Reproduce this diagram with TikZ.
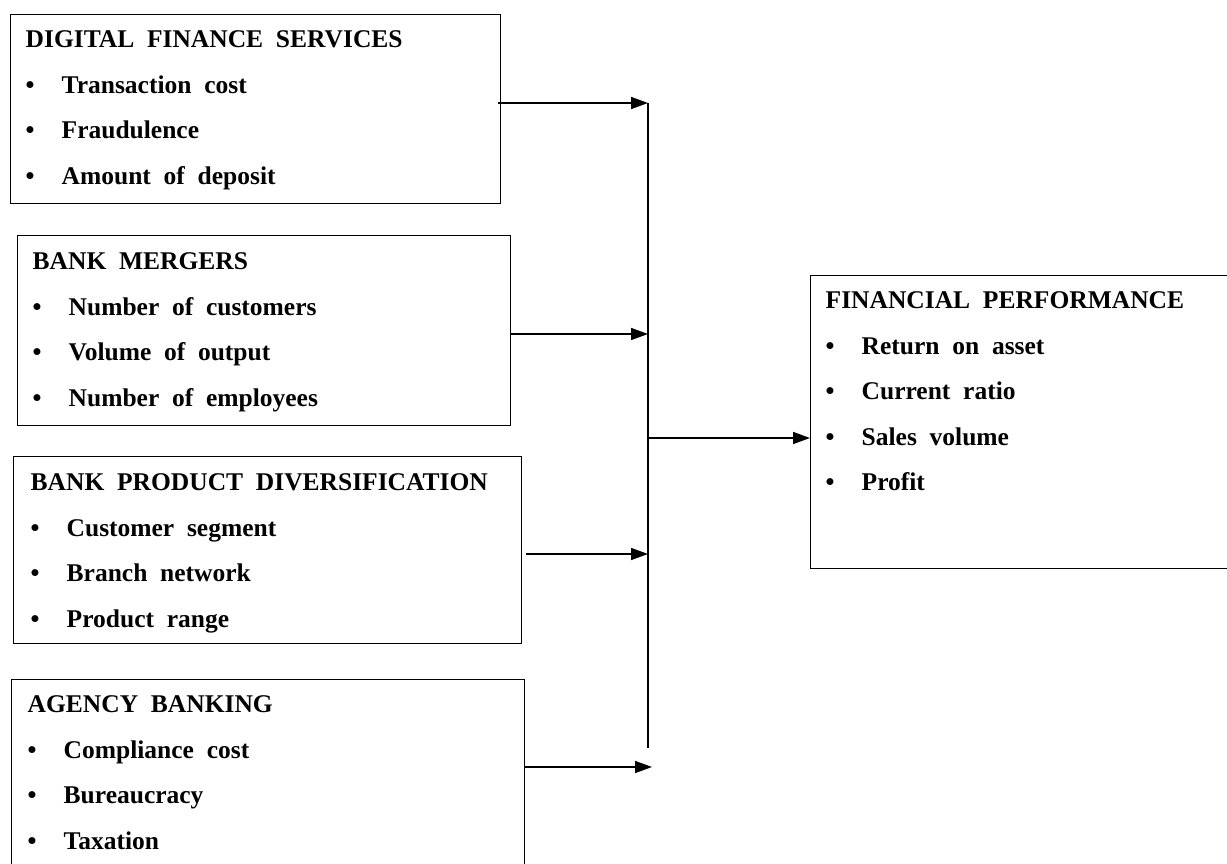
\documentclass[tikz,border=0pt]{standalone}
\usepackage{fontspec}
\setmainfont{Liberation Serif}[WordSpace=2.0]
\usetikzlibrary{positioning,arrows.meta}

% one bulleted line of a box
\newcommand{\itm}[1]{\\\makebox[36pt][l]{\textbullet}#1}

\begin{document}
\begin{tikzpicture}[x=1pt, y=-1pt, line width=1.4pt,
  font=\bfseries\fontsize{25.5}{45.5}\selectfont,
  panel/.style={draw, rectangle, anchor=north west, inner sep=0pt},
  entries/.style={anchor=north west, align=left, inner sep=0pt},
  feed/.style={line width=1.6pt, -{Triangle[length=17pt, width=12pt]}}]

  \useasboundingbox (0,0) rectangle (1227,864);
  \clip (0,0) rectangle (1227,864);

  % Boxes (the last two run off the page)
  \foreach \name/\x/\y/\w/\h in {dfs/10/14/490/189, merge/17/235/493/190,
      divers/13/456/508/187, agency/11/679/513/200, perf/810/275/440/293}
    \node[panel, minimum width=\w pt, minimum height=\h pt] (\name) at (\x,\y) {};

  % Box contents
  \node[entries] (dfs text) at (25,30)
    {DIGITAL FINANCE SERVICES \itm{Transaction cost} \itm{Fraudulence} \itm{Amount of deposit}};
  \node[entries] (merge text) at (32,252)
    {BANK MERGERS \itm{Number of customers} \itm{Volume of output} \itm{Number of employees}};
  \node[entries] (divers text) at (30,473)
    {BANK PRODUCT DIVERSIFICATION \itm{Customer segment} \itm{Branch network} \itm{Product range}};
  \node[entries] (agency text) at (27,695)
    {AGENCY BANKING \itm{Compliance cost} \itm{Bureaucracy} \itm{Taxation}};
  \node[entries] (perf text) at (825,291)
    {FINANCIAL PERFORMANCE \itm{Return on asset} \itm{Current ratio} \itm{Sales volume} \itm{Profit}};

  % Bus line and the arrows feeding it
  \coordinate (bus top) at (648,103);
  \coordinate (bus end) at (648,748);
  \coordinate (bus out) at (648,438);
  \coordinate (in2) at (648,334);
  \coordinate (in3) at (648,554);
  \coordinate (in4) at (652,767);
  \draw (bus top) -- (bus end);
  \draw[feed] ([xshift=-3pt]dfs.east |- bus top) -- (bus top);
  \draw[feed] (merge.east |- in2) -- (in2);
  \draw[feed, shorten <=4pt] (divers.east |- in3) -- (in3);
  \draw[feed] (agency.east |- in4) -- (in4);
  \draw[feed] (bus out) -- (perf.west |- bus out);

\end{tikzpicture}
\end{document}
